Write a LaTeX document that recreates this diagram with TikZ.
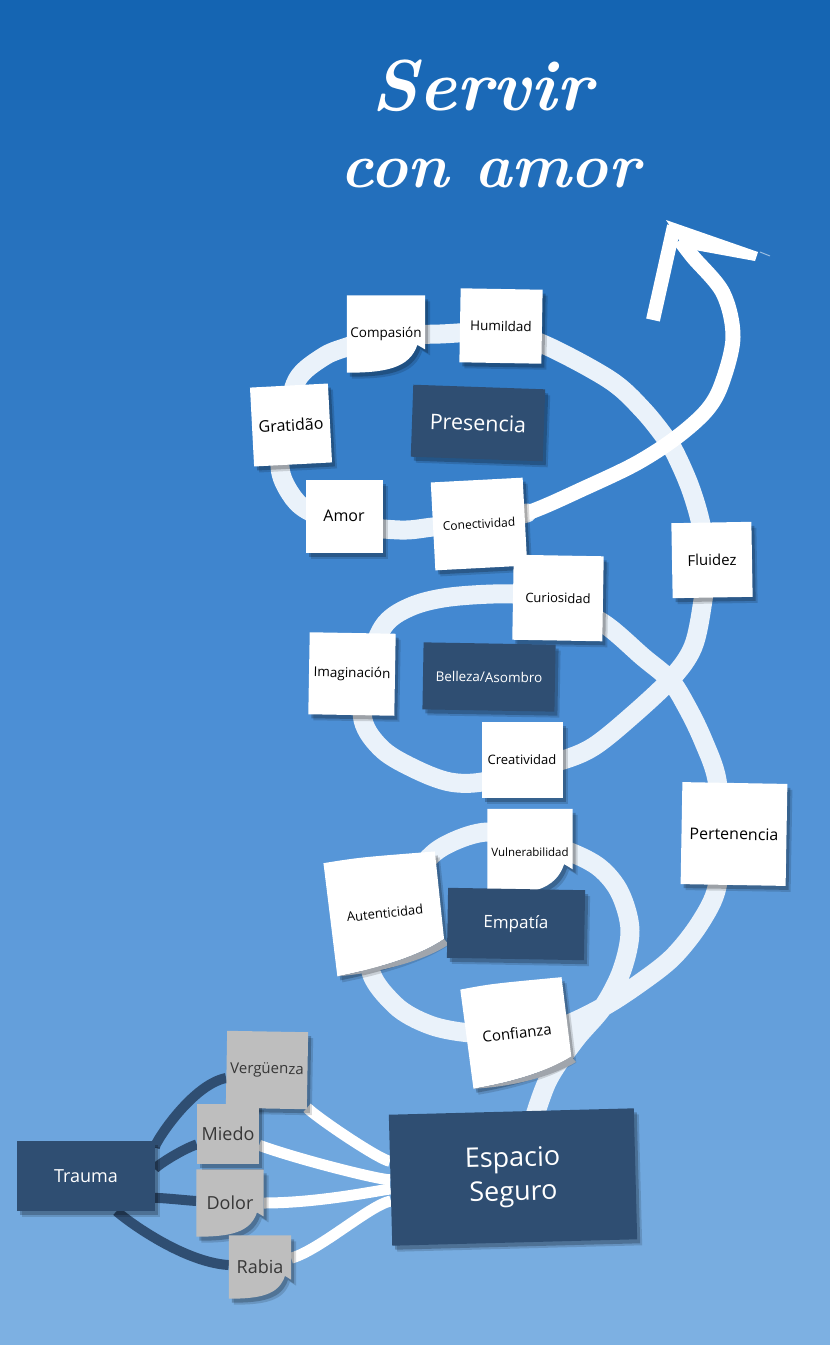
\documentclass[tikz,border=0pt]{standalone}
\usepackage{fontspec}
\setmainfont{Open Sans}
\newfontfamily\titlefnt{Latin Modern Roman}
\usetikzlibrary{calc,shadows}
\definecolor{navy}{RGB}{47,78,114}
\definecolor{chalk}{RGB}{234,242,250}
\definecolor{bgtop}{RGB}{20,100,178}
\definecolor{bgmid}{RGB}{72,140,212}
\definecolor{bgbot}{RGB}{126,177,226}
\definecolor{notegray}{RGB}{190,190,190}
\definecolor{graytext}{RGB}{55,55,55}
\definecolor{curlgray}{RGB}{160,165,172}
\pgfdeclarelayer{bg}
\pgfdeclarelayer{notes}
\pgfsetlayers{bg,notes,main}
\newcommand\fs[1]{\fontsize{#1pt}{#1pt}\selectfont}
\newcommand\curlshape[2]{%
  \fill[#2] let \p1=(#1.north west), \p2=(#1.south east), \n1={\x2-\x1}, \n2={\y1-\y2} in
  (\p1) -- (\x2,\y1) -- (\x2,{\y2+0.3*\n2}) -- ({\x2-0.1*\n1},{\y2+0.36*\n2})
  .. controls ({\x2-0.2*\n1},{\y2+0.06*\n2}) and ({\x2-0.5*\n1},\y2) .. (\x1,\y2) -- cycle;}
\tikzset{
  shd/.style={drop shadow={shadow xshift=5pt, shadow yshift=-6pt, opacity=0.14, fill=black},
              drop shadow={shadow xshift=3pt, shadow yshift=-4pt, opacity=0.22, fill=black}},
  note/.style={fill=white, text=black, inner sep=0pt, shd},
  curlnote/.style={inner sep=0pt, text=black},
  darkbox/.style={fill=navy, text=white, inner sep=0pt, shd},
  graynote/.style={fill=notegray, text=graytext, inner sep=0pt, shd},
  grayfill/.style={fill=notegray},
  spiral/.style={line width=19pt, draw=chalk, line cap=round, line join=round},
  chalkarrow/.style={line width=15pt, draw=white, line join=round},
  darklink/.style={line width=10pt, draw=navy},
  whitelink/.style={line width=11pt, draw=white},
  titletext/.style={anchor=base, text=white, inner sep=0pt, font=\titlefnt\bfseries\itshape},
}
\begin{document}
\begin{tikzpicture}[x=1pt,y=-1pt]
\useasboundingbox (0,0) rectangle (830,1345);
\begin{pgfonlayer}{bg}
\foreach \i in {0,...,67}{
  \pgfmathsetmacro\p{100-\i*100/67}
  \fill[bgtop!\p!bgmid] (0,{\i*10}) rectangle (830,{\i*10+11});
}
\foreach \i in {0,...,67}{
  \pgfmathsetmacro\p{100-\i*100/67}
  \fill[bgmid!\p!bgbot] (0,{670+\i*10}) rectangle (830,{670+\i*10+11});
}
\end{pgfonlayer}

% title
\node[titletext] (t1) at (482,110) {\fs{72}Servir};
\node[titletext] (t2) at (490,187) {\fs{63}con amor};

% top loop
\node[note, minimum width=82pt, minimum height=74pt, rotate=-1] (hum) at (501,326) {\fs{13.5}Humildad};
\node[curlnote, minimum width=78pt, minimum height=77pt] (comp) at (386,334) {\fs{13.5}Compasión};
\node[note, minimum width=78pt, minimum height=79pt, rotate=3] (grat) at (291,425) {\fs{16}Gratidão};
\node[darkbox, minimum width=132pt, minimum height=72pt, rotate=-2] (pres) at (478,423) {\fs{21.5}Presencia};
\node[note, minimum width=77pt, minimum height=73pt] (amor) at (344,516) {\fs{16}Amor};
\node[note, minimum width=92pt, minimum height=88pt, rotate=3] (conec) at (479,524) {\fs{12}Conectividad};

% middle loop
\node[note, minimum width=90pt, minimum height=85pt, rotate=-1] (cur) at (558,598) {\fs{13}Curiosidad};
\node[note, minimum width=86pt, minimum height=82pt, rotate=-1] (imag) at (352,674) {\fs{13.5}Imaginación};
\node[darkbox, minimum width=132pt, minimum height=67pt, rotate=-1] (bell) at (489,677) {\fs{13.5}Belleza/Asombro};
\node[note, minimum width=81pt, minimum height=76pt] (crea) at (522,760) {\fs{13}Creatividad};

% bottom loop
\node[curlnote, minimum width=85pt, minimum height=86pt] (vul) at (530,852) {\fs{11.5}Vulnerabilidad};
\node[curlnote, minimum width=112pt, minimum height=112pt, rotate=6] (aut) at (385,913) {\fs{13}Autenticidad};
\node[darkbox, minimum width=137pt, minimum height=70pt, rotate=-1] (emp) at (516,924) {\fs{17}Empatía};
\node[curlnote, minimum width=102pt, minimum height=100pt, rotate=7] (conf) at (517,1033) {\fs{15}Confianza};

% right side
\node[note, minimum width=80pt, minimum height=75pt, rotate=1] (flu) at (712,560) {\fs{15}Fluidez};
\node[note, minimum width=105pt, minimum height=102pt, rotate=-1] (pert) at (734,834) {\fs{16}Pertenencia};

% bottom left
\node[darkbox, minimum width=138pt, minimum height=70pt] (trauma) at (86,1176) {\fs{18}Trauma};
\node[graynote, minimum width=81pt, minimum height=77pt, rotate=-1] (verg) at (267,1070) {\fs{15}Vergüenza};
\node[graynote, minimum width=62pt, minimum height=60pt] (miedo) at (228,1134) {\fs{18}Miedo};
\node[curlnote, text=graytext, minimum width=67pt, minimum height=67pt] (dolor) at (230,1203) {\fs{18}Dolor};
\node[curlnote, text=graytext, minimum width=62pt, minimum height=63pt] (rabia) at (260,1267) {\fs{18}Rabia};
\node[darkbox, minimum width=245pt, minimum height=131pt, rotate=1.5, align=center,
  font=\fontsize{27pt}{34pt}\selectfont] (es) at (513,1177) {Espacio\\Seguro};

% curled notes
\begin{pgfonlayer}{notes}
\curlshape{comp}{white, shd}
\curlshape{vul}{white, shd}
\curlshape{dolor}{grayfill, shd}
\curlshape{rabia}{grayfill, shd}
\begin{scope}[shift={(aut.center)}, rotate=6]
  \fill[white, shd] (-56,-56) .. controls (-20,-58) .. (56,-56) -- (56,32)
     .. controls (30,46) and (-10,54) .. (-54,58) -- cycle;
  \fill[curlgray] (56,32) .. controls (30,46) and (-10,54) .. (-54,58)
     .. controls (-10,59) and (35,51) .. (60,38) -- cycle;
\end{scope}
\begin{scope}[shift={(conf.center)}, rotate=7]
  \fill[white, shd] (-51,-50) .. controls (-20,-52) .. (51,-50) -- (51,30)
     .. controls (25,42) and (-10,48) .. (-50,50) -- cycle;
  \fill[curlgray] (51,30) .. controls (25,42) and (-10,48) .. (-50,50)
     .. controls (-10,53) and (30,47) .. (55,36) -- cycle;
\end{scope}
\end{pgfonlayer}

% spiral strokes and links
\begin{pgfonlayer}{bg}
\coordinate (s0) at (532,1125);
\draw[spiral] plot[smooth, tension=0.55] coordinates {
  (s0) (548,1080) (575,1040) (603,1007) (622,970) (630,930) (620,893) (600,868) (570,852)
  (530,840) (487,832) (450,843) (425,862) (392,910) (370,966) (395,1005) (430,1025)
  (470,1033) (517,1034) (560,1027) (603,1007) (640,983) (673,957) (700,923) (717,887)
  (719,834) (717,780) (703,740) (687,707) (670,680) (643,657) (603,623) (558,602)
  (513,594) (450,597) (410,607) (383,627) (366,674) (363,720) (383,750) (417,770)
  (450,782) (482,782) (522,770) (563,760) (593,747) (627,720) (670,680) (693,647)
  (703,600) (707,560) (700,520) (690,487) (677,457) (667,440) (643,410) (610,380)
  (545,345) (501,332) (440,334) (386,336) (347,347) (323,357) (297,380) (286,425)
  (280,467) (290,493) (307,510) (344,524) (400,530) (433,527) (479,522) (527,513)};
\coordinate (tip) at (674,226);
\draw[chalkarrow] plot[smooth, tension=0.55] coordinates {
  (479,522) (527,513) (587,487) (637,463) (677,437) (707,410) (722,383) (733,337)
  (723,293) (693,257) (680,240)};
\draw[chalkarrow, line width=14pt] (653,320) -- (tip);
\fill[white] (666,220) -- (758,252) -- (755,261) -- (684,248) -- cycle;
\draw[chalk, line width=1pt, opacity=0.6] (760,252) -- (770,256);

\draw[darklink] (trauma) .. controls (150,1150) and (190,1085) .. (verg);
\draw[darklink] (trauma) .. controls (150,1170) and (180,1150) .. (miedo);
\draw[darklink] (trauma) .. controls (140,1195) and (180,1200) .. (dolor);
\draw[darklink] (trauma) .. controls (120,1215) and (180,1262) .. (rabia);

\draw[whitelink] (verg) .. controls (320,1120) and (380,1160) .. (es);
\draw[whitelink] (miedo) .. controls (300,1160) and (380,1180) .. (es);
\draw[whitelink] (dolor) .. controls (320,1203) and (380,1190) .. (es);
\draw[whitelink] (rabia) .. controls (320,1250) and (370,1205) .. (es);
\end{pgfonlayer}
\end{tikzpicture}
\end{document}
